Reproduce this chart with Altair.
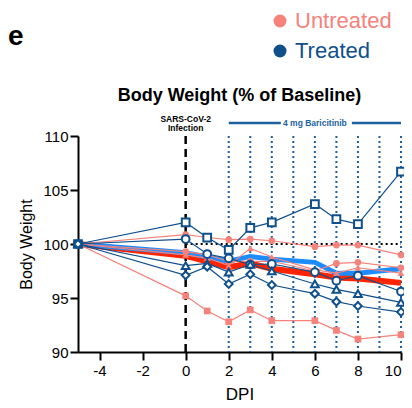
import altair as alt
import pandas as pd

days = [-5, 0, 1, 2, 3, 4, 6, 7, 8, 10]

# Untreated animals (salmon)
untreated_circle = [100, 100.86, 100.6, 100.4, 100.46, 100.3, 99.75, 99.9, 99.9, 99.0]
untreated_square = [100, 95.2, 93.8, 92.8, 93.9, 92.9, 92.9, 92.0, 91.2, 91.6]
untreated_triangle = [100, 99.0, 98.7, 98.0, 99.6, 98.8, 97.6, 97.3, 97.8, 97.3]
untreated_circle2 = [100, 99.3, 99.0, 98.4, 98.4, 98.4, 97.5, 98.2, 98.3, 97.8]

# Treated animals (dark blue)
treated_square = [100, 102.0, 100.6, 99.45, 101.5, 102.0, 103.7, 102.3, 101.85, 106.7]
treated_circle = [100, 100.46, 99.07, 98.67, 98.1, 98.15, 97.4, 96.6, 97.07, 95.6]
treated_triangle = [100, 98.0, 98.2, 97.4, 98.1, 97.5, 96.3, 95.8, 95.4, 94.6]
treated_diamond = [100, 97.1, 97.9, 96.3, 97.2, 96.2, 95.4, 94.66, 94.26, 93.7]

# Group means
mean_untreated = [100, 98.9, 98.4, 97.85, 98.2, 97.7, 97.2, 96.9, 96.8, 96.4]
mean_treated = [100, 99.2, 98.8, 98.4, 98.85, 98.6, 98.3, 97.3, 97.3, 97.7]

groups = ["Untreated", "Treated"]
group_colors = ["#f5827b", "#0f4f8c"]

dosing_days = [2, 3, 4, 5, 6, 7, 8, 9, 10]
infection_day = [0]
baseline_span = [0, 10]
bar_left = [2, 4.42]
bar_right = [7.72, 10]

rows = []
for name, vals, grp, shp in [
    ("U1", untreated_circle, "Untreated", "circle"),
    ("U2", untreated_square, "Untreated", "square"),
    ("U3", untreated_triangle, "Untreated", "triangle-up"),
    ("U4", untreated_circle2, "Untreated", "circle"),
    ("T1", treated_square, "Treated", "square"),
    ("T2", treated_circle, "Treated", "circle"),
    ("T3", treated_triangle, "Treated", "triangle-up"),
    ("T4", treated_diamond, "Treated", "diamond"),
]:
    for d, v in zip(days, vals):
        rows.append({"animal": name, "group": grp, "shape": shp, "DPI": d, "bw": v})
df = pd.DataFrame(rows)

mrows = []
for grp, vals in [("Untreated", mean_untreated), ("Treated", mean_treated)]:
    for d, v in zip(days, vals):
        mrows.append({"group": grp, "DPI": d, "bw": v})
mdf = pd.DataFrame(mrows)

FONT = "Liberation Sans"
xs = alt.Scale(domain=[-5, 10], nice=False, zero=False)
ys = alt.Scale(domain=[90, 110], nice=False, zero=False)
cscale = alt.Scale(domain=groups, range=group_colors)

X = alt.X("DPI:Q", scale=xs, axis=alt.Axis(values=[-4, -2, 0, 2, 4, 6, 8, 10], title="DPI",
                                              labelExpr="datum.value + ''",
                                              grid=False, labelFontSize=15, titleFontSize=17,
                                              titleFontWeight="normal", tickSize=8, tickWidth=2,
                                              domainWidth=2, domainColor="black", tickColor="black",
                                              labelColor="black", titleColor="black",
                                              labelPadding=3, titlePadding=8, labelFont=FONT, titleFont=FONT))
Y = alt.Y("bw:Q", scale=ys, axis=alt.Axis(values=[90, 95, 100, 105, 110], title="Body Weight",
                                          grid=False, labelFontSize=15, titleFontSize=16,
                                          titleFontWeight="normal", tickSize=8, tickWidth=2,
                                          domainWidth=2, domainColor="black", tickColor="black",
                                          labelColor="black", titleColor="black",
                                          labelPadding=2, titlePadding=8, labelFont=FONT, titleFont=FONT))

# vertical dosing lines
dose_df = pd.DataFrame({"DPI": dosing_days})
dose_lines = alt.Chart(dose_df).mark_rule(color="#1d5f9f", strokeWidth=2, strokeDash=[2, 3]).encode(
    x=alt.X("DPI:Q", scale=xs), y=alt.value(0), y2=alt.value(216))

inf_df = pd.DataFrame({"DPI": infection_day})
inf_line = alt.Chart(inf_df).mark_rule(color="black", strokeWidth=2.5, strokeDash=[8, 5]).encode(
    x=alt.X("DPI:Q", scale=xs), y=alt.value(0), y2=alt.value(216))

base_df = pd.DataFrame({"x": [baseline_span[0]], "x2": [baseline_span[1]], "y": [100]})
base_line = alt.Chart(base_df).mark_rule(color="black", strokeWidth=2, strokeDash=[2, 3]).encode(
    x=alt.X("x:Q", scale=xs), x2="x2:Q", y=alt.Y("y:Q", scale=ys))

bar_df = pd.DataFrame({"x": [bar_left[0], bar_right[0]], "x2": [bar_left[1], bar_right[1]]})
bar_lines = alt.Chart(bar_df).mark_rule(color="#1d5f9f", strokeWidth=2.5).encode(
    x=alt.X("x:Q", scale=xs), x2="x2:Q", y=alt.value(-13))

bar_text = alt.Chart(pd.DataFrame({"x": [6], "t": ["4 mg Baricitinib"]})).mark_text(
    font=FONT, fontSize=8.5, fontWeight="bold", color="#1d5f9f", baseline="middle").encode(
    x=alt.X("x:Q", scale=xs), y=alt.value(-13), text="t:N")

inf_text = alt.Chart(pd.DataFrame({"x": [0, 0], "t": ["SARS-CoV-2", "Infection"], "yy": [-17.5, -8.5]})).mark_text(
    font=FONT, fontSize=8.5, fontWeight="bold", color="black", baseline="middle").encode(
    x=alt.X("x:Q", scale=xs), y=alt.Y("yy:Q", scale=None), text="t:N")

title_text = alt.Chart(pd.DataFrame({"t": ["Body Weight (% of Baseline)"]})).mark_text(
    font=FONT, fontSize=18, fontWeight="bold", color="black", baseline="alphabetic").encode(
    x=alt.value(161.5), y=alt.value(-35), text="t:N")

panel_text = alt.Chart(pd.DataFrame({"t": ["e"]})).mark_text(
    font=FONT, fontSize=28, fontWeight="bold", color="black", baseline="alphabetic", align="left").encode(
    x=alt.value(-70), y=alt.value(-91), text="t:N")

mean_u = alt.Chart(mdf[mdf.group == "Untreated"]).mark_line(color="#ff2400", strokeWidth=6).encode(x=X, y=Y)
mean_t = alt.Chart(mdf[mdf.group == "Treated"]).mark_line(color="#1c8cff", strokeWidth=5).encode(x=X, y=Y)

ind_lines = alt.Chart(df).mark_line(strokeWidth=1.2).encode(
    x=X, y=Y, detail="animal:N",
    color=alt.Color("group:N", scale=cscale, legend=None))

label_color_expr = "datum.value == 'Untreated' ? '%s' : '%s'" % (group_colors[0], group_colors[1])

u_points = alt.Chart(df[df.group == "Untreated"]).mark_point(filled=True, size=45, opacity=1).encode(
    x=X, y=Y,
    shape=alt.Shape("shape:N", scale=None),
    color=alt.Color("group:N", scale=cscale, title=None,
                    legend=alt.Legend(orient="none", legendX=191, legendY=-126, symbolType="circle",
                                      symbolSize=169, labelFontSize=22, labelFont=FONT,
                                      rowPadding=8, labelOffset=4, symbolStrokeWidth=0,
                                      symbolOpacity=1, values=groups,
                                      labelColor=alt.ExprRef(label_color_expr),
                                      direction="vertical")))

t_points = alt.Chart(df[df.group == "Treated"]).mark_point(filled=False, fill="white", size=60,
                                                            strokeWidth=2, opacity=1).encode(
    x=X, y=Y,
    shape=alt.Shape("shape:N", scale=None),
    color=alt.Color("group:N", scale=cscale, legend=None))

chart = alt.layer(
    dose_lines, inf_line, base_line, bar_lines, bar_text, inf_text, title_text, panel_text,
    mean_u, mean_t, ind_lines, u_points, t_points
).resolve_legend(color="independent").properties(
    width=323, height=216,
    autosize=alt.AutoSizeParams(type="none"),
    padding={"left": 70, "top": 128, "right": 3, "bottom": 54},
).configure_view(stroke=None)

chart.save("out.html", embed_options={"renderer": "svg", "actions": False})
